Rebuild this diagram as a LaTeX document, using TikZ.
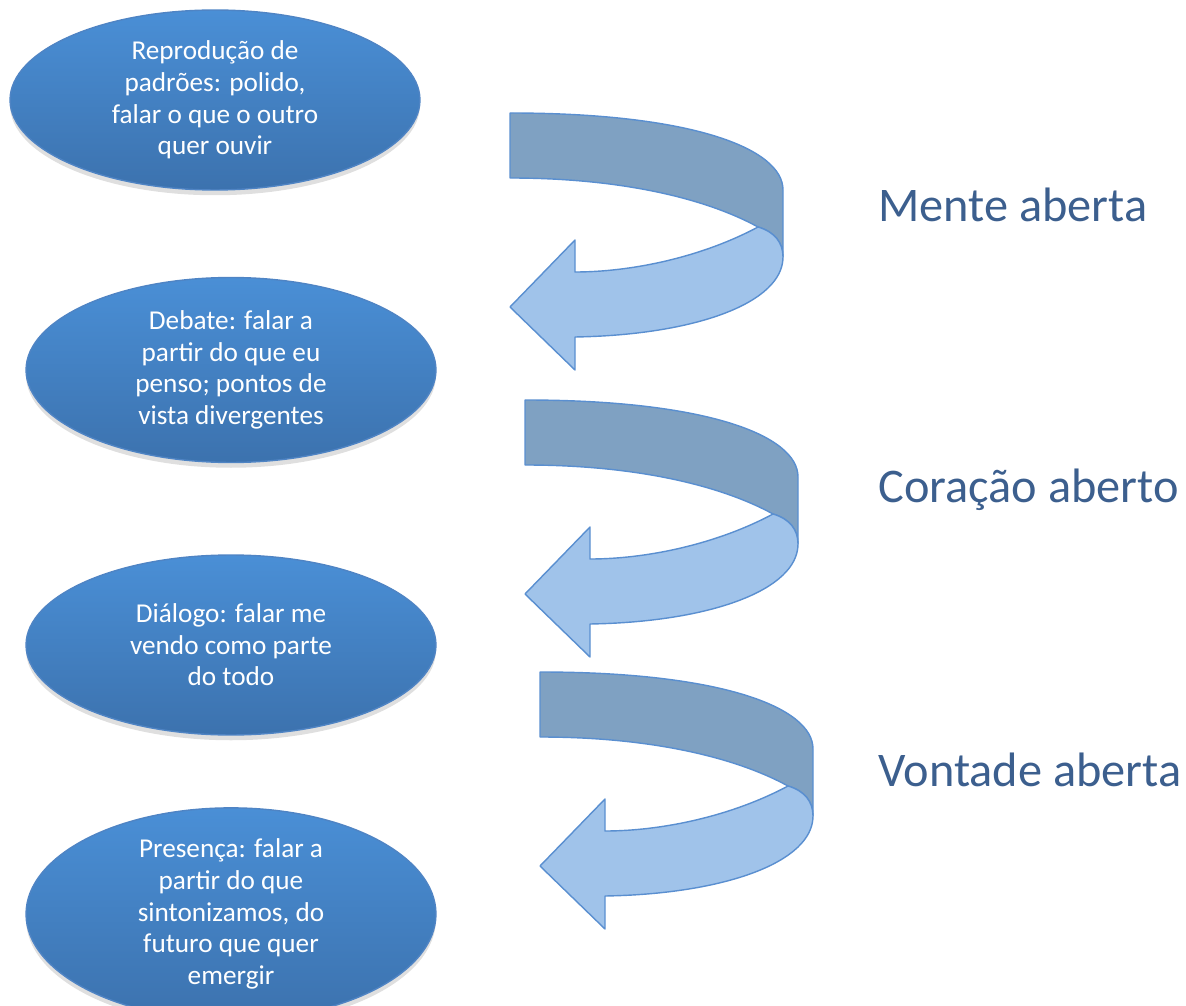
\documentclass[tikz,border=0pt]{standalone}
\usepackage{fontspec}
\setmainfont{Carlito}
\usetikzlibrary{shapes.geometric,shadows}

\definecolor{ovaltop}{HTML}{4A8FD6}
\definecolor{ovalbot}{HTML}{3C72AE}
\definecolor{ovaledge}{HTML}{4F84C4}
\definecolor{bandback}{HTML}{7FA1C2}
\definecolor{bandfront}{HTML}{A0C3EA}
\definecolor{bandedge}{HTML}{5A8FD0}
\definecolor{labelblue}{HTML}{3C5F8E}

\begin{document}
\begin{tikzpicture}[x=0.02cm,y=-0.02cm]
\useasboundingbox (0,0) rectangle (1186,1006);

% curved arrows: dark back band, then light front band with head
\foreach \ax/\ay in {510/113, 525/400, 540/672}{
\begin{scope}[shift={(\ax,\ay)},line width=0.8pt,draw=bandedge,line join=round]
    \filldraw[fill=bandback] (0,0) .. controls (180,0) and (273,35) .. (273,77)
        -- (273,144) .. controls (273,130) and (265,119) .. (248,114)
        .. controls (195,85) and (110,65) .. (0,65) -- cycle;
    \filldraw[fill=bandfront] (248,114) .. controls (190,145) and (120,159) .. (65,159)
        -- (65,127) -- (0,194) -- (65,257) -- (65,224)
        .. controls (185,222) and (273,190) .. (273,144)
        .. controls (273,130) and (265,119) .. (248,114) -- cycle;
\end{scope}
}

\begin{scope}[every node/.style={ellipse,draw=ovaledge,thick,inner sep=0pt,
        top color=ovaltop,bottom color=ovalbot,text=white,align=center,
        font=\fontsize{15.5}{18}\selectfont,
        drop shadow={shadow xshift=0pt,shadow yshift=-3pt,opacity=0.25},
        minimum width=8.2cm,minimum height=3.6cm}]
    \node (padroes) at (215,100) {Reprodução de\\padrões: polido,\\falar o que o outro\\quer ouvir};
    \node (debate) at (231,370) [minimum height=3.7cm] {Debate: falar a\\partir do que eu\\penso; pontos de\\vista divergentes};
    \node (dialogo) at (231,645) {Diálogo: falar me\\vendo como parte\\do todo};
    \node (presenca) at (231,914) [minimum height=3.65cm] {Presença: falar a\\partir do que\\sintonizamos, do\\futuro que quer\\emergir};
\end{scope}

\begin{scope}[every node/.style={anchor=west,text=labelblue,inner sep=0pt,
        font=\fontsize{27.5}{32}\selectfont}]
    \node (mente) at (878,205) {Mente aberta};
    \node (coracao) at (878,490) {Coração aberto};
    \node (vontade) at (878,770) {Vontade aberta};
\end{scope}
\end{tikzpicture}
\end{document}
